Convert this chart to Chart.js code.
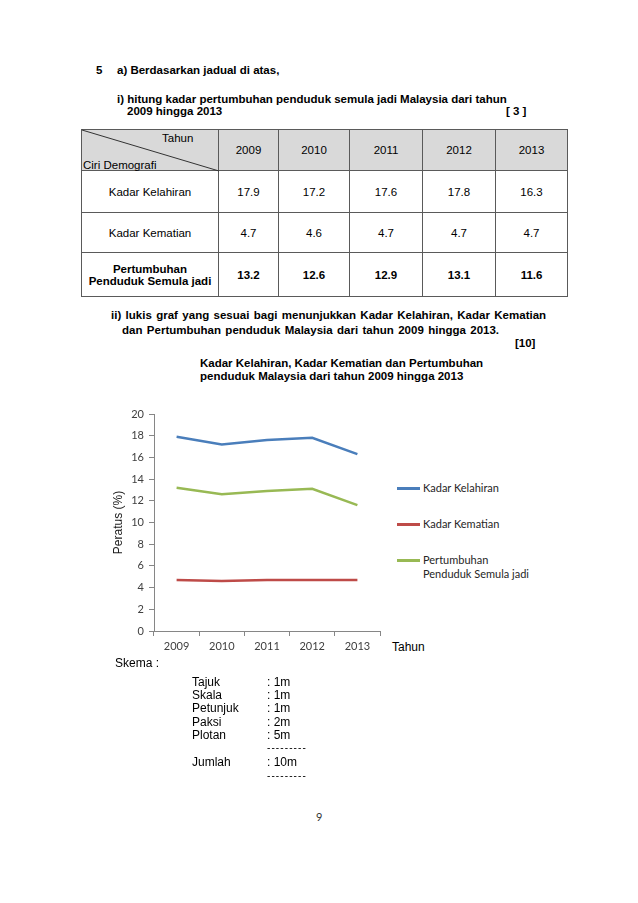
<!DOCTYPE html>
<html><head><meta charset="utf-8">
<script src="https://cdn.jsdelivr.net/npm/chart.js@4/dist/chart.umd.min.js"></script>
<style>
html,body{margin:0;padding:0;background:#fff;}
body{width:638px;height:903px;position:relative;overflow:hidden;font-family:"Liberation Sans",Arial,sans-serif;color:#000;}
.t{position:absolute;white-space:nowrap;line-height:14px;font-size:11.5px;}
.b{font-weight:bold;}
.cell{position:absolute;box-sizing:border-box;border:1px solid #5a5a5a;display:flex;align-items:center;justify-content:center;text-align:center;font-size:11.5px;line-height:12px;}
.leg{position:absolute;font-family:Lato,"Open Sans",sans-serif;font-size:11px;color:#262626;line-height:14px;white-space:nowrap;}
.sw{position:absolute;height:3px;width:23px;}
</style></head>
<body>
<div class="t b" style="left:96px;top:63px;">5</div>
<div class="t b" style="left:117px;top:63px;">a) Berdasarkan jadual di atas,</div>
<div class="t b" style="left:117px;top:92px;">i) hitung kadar pertumbuhan penduduk semula jadi Malaysia dari tahun</div>
<div class="t b" style="left:127px;top:104px;">2009 hingga 2013</div>
<div class="t b" style="left:506px;top:104px;">[ 3 ]</div>

<div id="tbl"></div>
<svg style="position:absolute;left:0;top:0;" width="638" height="903" id="diag"><line x1="82" y1="130" x2="219" y2="171" stroke="#333" stroke-width="1"/></svg>

<div class="t b" style="left:111px;top:308px;word-spacing:1.2px;">ii) lukis graf yang sesuai bagi menunjukkan Kadar Kelahiran, Kadar Kematian</div>
<div class="t b" style="left:122px;top:323px;word-spacing:1.2px;">dan Pertumbuhan penduduk Malaysia dari tahun 2009 hingga 2013.</div>
<div class="t b" style="left:515px;top:336px;">[10]</div>
<div class="t b" style="left:200px;top:356px;">Kadar Kelahiran, Kadar Kematian dan Pertumbuhan</div>
<div class="t b" style="left:200px;top:369px;">penduduk Malaysia dari tahun 2009 hingga 2013</div>

<div style="position:absolute;left:100px;top:400px;width:282px;height:260px;"><canvas id="c" width="282" height="260"></canvas></div>
<div id="legend"></div>
<div class="t" style="left:392px;top:640px;font-size:12px;">Tahun</div>

<div class="t" style="left:115px;top:656px;font-size:12px;">Skema :</div>
<div id="skema"></div>
<div class="leg" style="left:316px;top:810px;font-size:11px;color:#333;">9</div>

<script>
const years = ['2009','2010','2011','2012','2013'];
const kadarKelahiran = [17.9,17.2,17.6,17.8,16.3];
const kadarKematian = [4.7,4.6,4.7,4.7,4.7];
const pertumbuhan = [13.2,12.6,12.9,13.1,11.6];
const seriesNames = [['Kadar Kelahiran'],['Kadar Kematian'],['Pertumbuhan','Penduduk Semula jadi']];
const seriesColors = ['#4a7ebb','#be4b48','#98b954'];
const yMin = 0, yMax = 20, yStep = 2;
const skemaItems = ['Tajuk','Skala','Petunjuk','Paksi','Plotan'];
const skemaMarks = ['1m','1m','1m','2m','5m'];
const skemaTotal = ['Jumlah','10m'];

// ---- table ----
const colEdges = [81,218,278,349,422,495,567];
const rowEdges = [129,170,212,252,296];
const tbl = document.getElementById('tbl');
function cell(ci,ri,html,extra){
  const d=document.createElement('div');
  d.className='cell';
  d.style.left=colEdges[ci]+'px';
  d.style.top=rowEdges[ri]+'px';
  d.style.width=(colEdges[ci+1]-colEdges[ci]+1)+'px';
  d.style.height=(rowEdges[ri+1]-rowEdges[ri]+1)+'px';
  d.innerHTML=html;
  if(extra) Object.assign(d.style,extra);
  tbl.appendChild(d);
  return d;
}
const hdrBg={background:'#d9d9d9'};
cell(0,0,'',hdrBg);
years.forEach((y,i)=>cell(i+1,0,y,hdrBg));
const rows=[kadarKelahiran,kadarKematian,pertumbuhan];
rows.forEach((vals,r)=>{
  const bold = r===2 ? {fontWeight:'bold'} : null;
  cell(0,r+1,seriesNames[r].join('<br>'),bold);
  vals.forEach((v,i)=>cell(i+1,r+1,v.toFixed(1),bold));
});
const th=document.createElement('div');th.className='t';th.style.cssText='left:162px;top:131px;font-size:11.5px;';th.textContent='Tahun';tbl.appendChild(th);
const cd=document.createElement('div');cd.className='t';cd.style.cssText='left:83px;top:158px;font-size:11.5px;';cd.textContent='Ciri Demografi';tbl.appendChild(cd);

// ---- legend ----
const legend=document.getElementById('legend');
const legY=[488,524,560];
seriesNames.forEach((lines,i)=>{
  const s=document.createElement('div');s.className='sw';
  s.style.left='397px';s.style.top=(legY[i]-1.5)+'px';s.style.background=seriesColors[i];
  legend.appendChild(s);
  const t=document.createElement('div');t.className='leg';
  t.style.left='423px';t.style.top=(legY[i]-7)+'px';t.innerHTML=lines.join('<br>');
  legend.appendChild(t);
});

// ---- skema ----
const sk=document.getElementById('skema');
const skY=[682,695,708,722,735];
skemaItems.forEach((it,i)=>{
  const a=document.createElement('div');a.className='t';a.style.cssText=`left:192px;top:${skY[i]-7}px;font-size:12px;`;a.textContent=it;sk.appendChild(a);
  const b=document.createElement('div');b.className='t';b.style.cssText=`left:267px;top:${skY[i]-7}px;font-size:12px;`;b.textContent=': '+skemaMarks[i];sk.appendChild(b);
});
[748,776].forEach(y=>{const d=document.createElement('div');d.className='t';d.style.cssText=`left:267px;top:${y-7}px;font-size:10px;letter-spacing:1.1px;`;d.textContent='---------';sk.appendChild(d);});
{const a=document.createElement('div');a.className='t';a.style.cssText='left:192px;top:755px;font-size:12px;';a.textContent=skemaTotal[0];sk.appendChild(a);
 const b=document.createElement('div');b.className='t';b.style.cssText='left:267px;top:755px;font-size:12px;';b.textContent=': '+skemaTotal[1];sk.appendChild(b);}

// ---- chart ----
const axisColor='#868686';
const tickFont={family:'Lato',size:11};
new Chart(document.getElementById('c'),{
  type:'line',
  data:{labels:years,datasets:[kadarKelahiran,kadarKematian,pertumbuhan].map((d,i)=>({
    label:seriesNames[i].join(' '),data:d,borderColor:seriesColors[i],backgroundColor:seriesColors[i],
    borderWidth:2.5,pointRadius:0,tension:0,fill:false}))},
  options:{
    responsive:false,animation:false,
    layout:{padding:{top:14,right:2,left:0,bottom:0}},
    plugins:{legend:{display:false},tooltip:{enabled:false}},
    scales:{
      x:{offset:true,
         grid:{offset:true,drawOnChartArea:false,drawTicks:true,tickLength:5,color:axisColor},
         border:{color:axisColor,width:1},
         ticks:{font:tickFont,color:'#404040',padding:4,maxRotation:0,autoSkip:false},
         afterFit(s){s.height=29;}},
      y:{min:yMin,max:yMax,
         grid:{drawOnChartArea:false,drawTicks:true,tickLength:5,color:axisColor},
         border:{color:axisColor,width:1},
         ticks:{stepSize:yStep,font:tickFont,color:'#404040',padding:5},
         title:{display:true,text:'Peratus (%)',font:{family:'Liberation Sans',size:12},color:'#1a1a1a',padding:{top:11,bottom:0}},
         afterFit(s){s.width=54;}}
    }
  }
});
</script>
</body></html>
